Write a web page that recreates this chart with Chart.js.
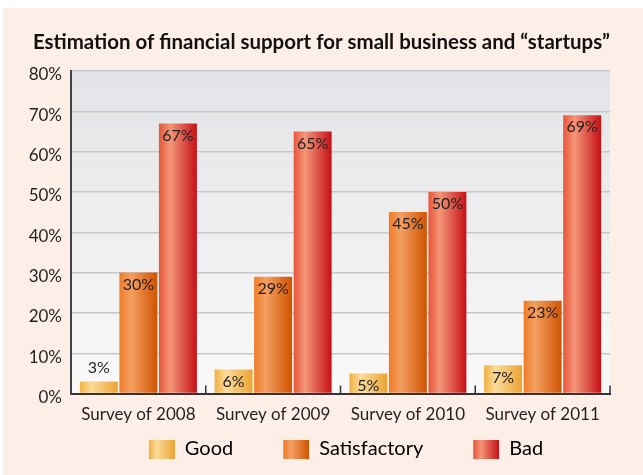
<!DOCTYPE html>
<html>
<head>
<meta charset="utf-8">
<script src="https://cdn.jsdelivr.net/npm/chart.js@4"></script>
<style>
  html, body { margin: 0; padding: 0; background: #fff; }
</style>
</head>
<body>
<canvas id="chart" width="643" height="475"></canvas>
<script>
const categories = ['Survey of 2008', 'Survey of 2009', 'Survey of 2010', 'Survey of 2011'];
const seriesNames = ['Good', 'Satisfactory', 'Bad'];
const goodValues = [3, 6, 5, 7];
const satisfactoryValues = [30, 29, 45, 23];
const badValues = [67, 65, 50, 69];
const yMax = 80;
const yStep = 10;

const FONT = 'Lato, "Open Sans", sans-serif';
const SWATCH_GAP = 41; // transparent space in front of each legend swatch

// horizontal gradient stops for each series
const gradStops = [
    [[0, '#f1b042'], [0.3, '#fbdb9a'], [1, '#eca433']],
    [[0, '#ee7b24'], [0.3, '#f4a062'], [1, '#cf5300']],
    [[0, '#e8553a'], [0.3, '#f39677'], [1, '#c70f16']]
];

function makeGradient(ctx, x0, x1, stops) {
    const g = ctx.createLinearGradient(x0, 0, x1, 0);
    stops.forEach(s => g.addColorStop(s[0], s[1]));
    return g;
}

function legendSwatch(stops, gap) {
    const c = document.createElement('canvas');
    c.width = 26 + gap;
    c.height = 19;
    const cx = c.getContext('2d');
    cx.fillStyle = makeGradient(cx, gap, gap + 26, stops);
    cx.fillRect(gap, 0, 26, 19);
    return c;
}

const backgroundPlugin = {
    id: 'panelBg',
    beforeDraw(chart) {
        const ctx = chart.ctx;
        ctx.save();
        ctx.fillStyle = '#ffffff';
        ctx.fillRect(0, 0, chart.width, chart.height);
        ctx.fillStyle = '#fdefe7';
        ctx.fillRect(3, 8, chart.width - 3, chart.height - 8);
        const a = chart.chartArea;
        const g = ctx.createLinearGradient(0, a.top, 0, a.bottom);
        g.addColorStop(0, '#e3e4e7');
        g.addColorStop(1, '#f9f9f9');
        ctx.fillStyle = g;
        ctx.fillRect(a.left, a.top, a.right - a.left, a.bottom - a.top);
        ctx.restore();
    }
};

// centre title and legend on the whole panel, not on the padded area
const centreBoxesPlugin = {
    id: 'centreBoxes',
    afterLayout(chart) {
        chart.titleBlock.left = 33;
        chart.titleBlock.right = chart.width - 33;
        chart.legend.left = 37;
        chart.legend.right = chart.width - 29;
    }
};

const barGradientPlugin = {
    id: 'barGradient',
    beforeDatasetsDraw(chart) {
        const ctx = chart.ctx;
        chart.data.datasets.forEach((ds, i) => {
            chart.getDatasetMeta(i).data.forEach(bar => {
                const x0 = bar.x - bar.width / 2;
                bar.options.backgroundColor = makeGradient(ctx, x0, x0 + bar.width, gradStops[i]);
            });
        });
    }
};

const valueLabelPlugin = {
    id: 'valueLabels',
    afterDatasetsDraw(chart) {
        const ctx = chart.ctx;
        ctx.save();
        ctx.font = '16px ' + FONT;
        ctx.fillStyle = '#231f20';
        ctx.textAlign = 'center';
        ctx.textBaseline = 'middle';
        chart.data.datasets.forEach((ds, i) => {
            chart.getDatasetMeta(i).data.forEach((bar, j) => {
                const h = bar.base - bar.y;
                const y = h < 16 ? bar.y - 14 : bar.y + 12;
                ctx.fillText(ds.data[j] + '%', bar.x, y);
            });
        });
        ctx.restore();
    }
};

// short upward ticks at category boundaries
const categoryTickPlugin = {
    id: 'categoryTicks',
    afterDatasetsDraw(chart) {
        const x = chart.scales.x;
        const ctx = chart.ctx;
        const half = (x.getPixelForTick(1) - x.getPixelForTick(0)) / 2;
        ctx.save();
        ctx.strokeStyle = '#333';
        ctx.lineWidth = 1.5;
        for (let i = 0; i < categories.length; i++) {
            const px = x.getPixelForTick(i) + half;
            ctx.beginPath();
            ctx.moveTo(px, chart.chartArea.bottom);
            ctx.lineTo(px, chart.chartArea.bottom - 8);
            ctx.stroke();
        }
        ctx.restore();
    }
};

const datasets = [goodValues, satisfactoryValues, badValues].map((vals, i) => ({
    label: seriesNames[i],
    data: vals,
    backgroundColor: ctx => gradStops[ctx.datasetIndex][0][1],
    borderWidth: 0,
    categoryPercentage: 0.88,
    barPercentage: 0.96
}));

new Chart(document.getElementById('chart'), {
    type: 'bar',
    data: { labels: categories, datasets: datasets },
    options: {
        responsive: false,
        animation: false,
        layout: { padding: { left: 15, right: 33, top: 10, bottom: 6 } },
        scales: {
            x: {
                afterFit: s => { s.height += 2; },
                grid: { display: false },
                border: { display: true, color: '#333', width: 2 },
                ticks: { color: '#231f20', font: { family: FONT, size: 17 }, padding: 3 }
            },
            y: {
                min: 0,
                max: yMax,
                afterFit: s => { s.width = 56; },
                grid: { color: '#c6c7c9', lineWidth: 1.5, drawTicks: false },
                border: { display: true, color: '#444', width: 2 },
                ticks: {
                    stepSize: yStep,
                    color: '#231f20',
                    font: { family: FONT, size: 17 },
                    padding: 9,
                    labelOffset: 4,
                    callback: v => v + '%'
                }
            }
        },
        plugins: {
            title: {
                display: true,
                text: 'Estimation of financial support for small business and \u201cstartups\u201d',
                color: '#111',
                font: { family: FONT, size: 20.8, weight: 'bold' },
                padding: { top: 20, bottom: 16 }
            },
            legend: {
                position: 'bottom',
                labels: {
                    usePointStyle: true,
                    pointStyleWidth: 26 + SWATCH_GAP,
                    boxHeight: 19,
                    padding: 9,
                    color: '#231f20',
                    font: { family: FONT, size: 20 },
                    generateLabels: chart => chart.data.datasets.map((ds, i) => ({
                        text: ds.label,
                        pointStyle: legendSwatch(gradStops[i], SWATCH_GAP),
                        fillStyle: 'transparent',
                        strokeStyle: 'transparent',
                        lineWidth: 0,
                        datasetIndex: i
                    }))
                }
            },
            tooltip: { enabled: false }
        }
    },
    plugins: [backgroundPlugin, centreBoxesPlugin, barGradientPlugin, valueLabelPlugin, categoryTickPlugin]
});
</script>
</body>
</html>
